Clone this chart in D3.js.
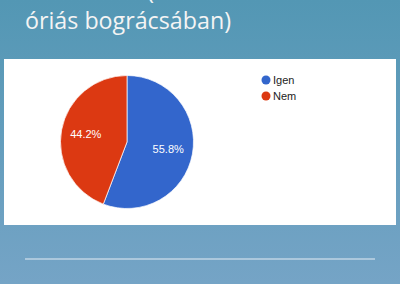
<!DOCTYPE html>
<html><head><meta charset="utf-8">
<script src="https://cdn.jsdelivr.net/npm/d3@7"></script>
<style>html,body{margin:0;padding:0;overflow:hidden;}</style>
</head><body>
<script>
const categories = ["Igen", "Nem"];
const values = [55.8, 44.2];
const colors = ["#3366cc", "#dc3912"];
const titleLines = ["(", "óriás bográcsában)"];

const W = 400, H = 284;
const svg = d3.select("body").append("svg").attr("width", W).attr("height", H);
const defs = svg.append("defs");
const g = defs.append("linearGradient").attr("id","bg").attr("x1",0).attr("y1",0).attr("x2",0).attr("y2",1);
g.append("stop").attr("offset","0%").attr("stop-color","#5397b4");
g.append("stop").attr("offset","100%").attr("stop-color","#75a4c6");
svg.append("rect").attr("width",W).attr("height",H).attr("fill","url(#bg)");

// title
svg.append("text").attr("x",147).attr("y",-1).attr("fill","#f4f4f4")
  .style("font-family","'Open Sans', Lato, sans-serif").style("font-size","24px").text(titleLines[0]);
svg.append("text").attr("x",25).attr("y",29).attr("fill","#f4f4f4")
  .attr("textLength",206).attr("lengthAdjust","spacingAndGlyphs")
  .style("font-family","'Open Sans', Lato, sans-serif").style("font-size","23px").text(titleLines[1]);

// panel
svg.append("rect").attr("x",4).attr("y",59).attr("width",392).attr("height",166).attr("fill","#ffffff");

const cx = 127, cy = 142, r = 66.5;
const pie = d3.pie().sort(null).value(d => d.v);
const data = pie(categories.map((c,i)=>({c, v: values[i]})));
const arc = d3.arc().innerRadius(0).outerRadius(r);
const pg = svg.append("g").attr("transform",`translate(${cx},${cy})`);
pg.selectAll("path").data(data).join("path")
  .attr("d", arc).attr("fill",(d,i)=>colors[i]).attr("stroke","#fff").attr("stroke-width",0.7);
const labelArc = d3.arc().innerRadius(r*0.63).outerRadius(r*0.63);
pg.selectAll("text").data(data).join("text")
  .attr("transform", d => `translate(${labelArc.centroid(d)})`)
  .attr("text-anchor","middle").attr("dy","0.35em")
  .attr("fill","#fff").style("font-family","Arial, 'Liberation Sans', sans-serif").style("font-size","11px")
  .text(d => d.data.v.toFixed(1) + "%");

// legend
const lg = svg.append("g").attr("transform","translate(266,80)");
categories.forEach((c,i)=>{
  const row = lg.append("g").attr("transform",`translate(0,${i*16})`);
  row.append("circle").attr("r",4.5).attr("fill",colors[i]);
  row.append("text").attr("x",7).attr("dy","0.35em").attr("fill","#222")
    .style("font-family","Arial, 'Liberation Sans', sans-serif").style("font-size","11px").text(c);
});

// bottom line
svg.append("line").attr("x1",25).attr("x2",375).attr("y1",259).attr("y2",259)
  .attr("stroke","#c0d4e4").attr("stroke-width",1.5);
</script>
</body></html>
